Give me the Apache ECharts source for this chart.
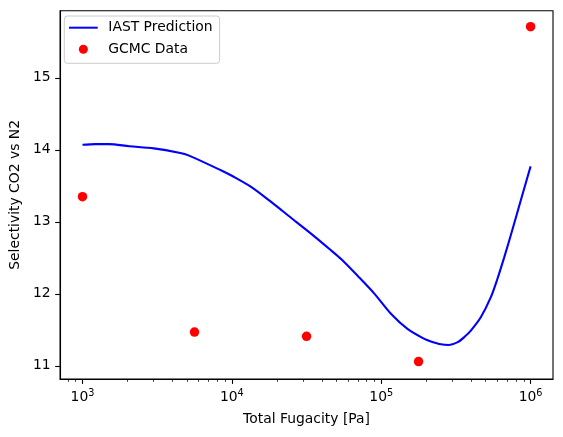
<!DOCTYPE html>
<html>
<head>
<meta charset="utf-8">
<script src="https://cdn.jsdelivr.net/npm/echarts@6/dist/echarts.min.js"></script>
<style>
html,body{margin:0;padding:0;background:#fff;}
#chart{width:563px;height:437px;}
</style>
</head>
<body>
<div id="chart"></div>
<script>
// IAST prediction curve: total fugacity [Pa] and selectivity
const iastFugacity = [1000, 1220, 1500, 2060, 3000, 4430, 5170, 8580, 10000, 13600, 18500, 25100, 34200, 46400, 54100, 69900, 90200, 116600, 150600, 194500, 215000, 251000, 282000, 325000, 360000, 398000, 464000, 541000, 600000, 664000, 736000, 815000, 902000, 1000000];
const iastSelectivity = [14.07, 14.08, 14.08, 14.05, 14.02, 13.96, 13.92, 13.71, 13.64, 13.48, 13.27, 13.05, 12.83, 12.60, 12.48, 12.245, 12.00, 11.72, 11.51, 11.375, 11.34, 11.30, 11.29, 11.33, 11.40, 11.49, 11.675, 11.95, 12.21, 12.50, 12.81, 13.13, 13.45, 13.77];
// GCMC data points
const gcmcFugacity = [1000, 5623, 31623, 177828, 1000000];
const gcmcSelectivity = [13.35, 11.47, 11.41, 11.06, 15.71];
// tick labels
const xMajorExponents = [3, 4, 5, 6];
const yTicks = [11, 12, 13, 14, 15];

const FONT = 'DejaVu Sans';
const FS = 13.9;

const minorTicks = [];
for (let e = 2; e <= 6; e++) {
  for (let m = 2; m <= 9; m++) {
    const v = Math.log10(m * Math.pow(10, e));
    if (v > 2.85 && v < 6.15) minorTicks.push(v);
  }
}

const chart = echarts.init(document.getElementById('chart'), null, {renderer: 'canvas'});
chart.setOption({
  animation: false,
  backgroundColor: '#fff',
  grid: {
    left: 57.3, right: 10, top: 10.7, bottom: 58,
    show: true, borderColor: '#000', borderWidth: 1.1, backgroundColor: 'transparent'
  },
  legend: {
    orient: 'vertical',
    left: 64.3, top: 16,
    padding: [3.7, 7, 6, 4.7],
    itemGap: 5.6,
    itemWidth: 28.7,
    itemHeight: 9,
    backgroundColor: 'rgba(255,255,255,0.8)',
    borderColor: '#cccccc',
    borderWidth: 1,
    borderRadius: 3,
    textStyle: {fontFamily: FONT, fontSize: FS, color: '#000', lineHeight: 16, padding: [0, 0, 0, 5.6]},
    data: [
      {name: 'IAST Prediction', icon: 'path://M0,0 H30 V2.1 H0 Z', itemStyle: {color: '#0000ff', borderWidth: 0}},
      {name: 'GCMC Data', icon: 'circle', itemStyle: {color: '#ff0000', borderWidth: 0}}
    ]
  },
  xAxis: [{
    type: 'value',
    min: 2.85, max: 6.15,
    name: 'Total Fugacity [Pa]',
    nameLocation: 'middle',
    nameGap: 33,
    nameTextStyle: {fontFamily: FONT, fontSize: FS, color: '#000'},
    splitLine: {show: false},
    axisLine: {show: true, onZero: false, lineStyle: {color: '#000', width: 1.1}},
    axisTick: {show: true, length: 4.9, customValues: xMajorExponents, lineStyle: {color: '#000', width: 1.1}},
    axisLabel: {
      customValues: xMajorExponents,
      margin: 9,
      formatter: function (v) { return '{b|10}{s|' + Math.round(v) + '}'; },
      rich: {
        b: {fontFamily: FONT, fontSize: FS, color: '#000'},
        s: {fontFamily: FONT, fontSize: 9.7, color: '#000', padding: [0, 0, 9, 0]}
      }
    }
  }, {
    type: 'value',
    min: 2.85, max: 6.15,
    position: 'bottom',
    splitLine: {show: false},
    axisLine: {show: false},
    axisLabel: {show: false},
    axisTick: {show: true, length: 2.8, customValues: minorTicks, lineStyle: {color: '#000', width: 0.8}}
  }],
  yAxis: {
    type: 'value',
    min: 10.8175, max: 15.9325,
    name: 'Selectivity CO2 vs N2',
    nameLocation: 'middle',
    nameGap: 35,
    nameRotate: 90,
    nameTextStyle: {fontFamily: FONT, fontSize: FS, color: '#000'},
    splitLine: {show: false},
    axisLine: {show: true, onZero: false, lineStyle: {color: '#000', width: 1.1}},
    axisTick: {show: true, length: 4.9, customValues: yTicks, lineStyle: {color: '#000', width: 1.1}},
    axisLabel: {customValues: yTicks, margin: 9.5, fontFamily: FONT, fontSize: FS, color: '#000'}
  },
  series: [{
    name: 'IAST Prediction',
    type: 'line',
    xAxisIndex: 0,
    symbol: 'none',
    smooth: 0.3,
    lineStyle: {color: '#0000ff', width: 2.1},
    itemStyle: {color: '#0000ff'},
    data: iastFugacity.map((f, i) => [Math.log10(f), iastSelectivity[i]]),
    z: 2
  }, {
    name: 'GCMC Data',
    type: 'scatter',
    xAxisIndex: 0,
    symbol: 'circle',
    symbolSize: 9.5,
    itemStyle: {color: '#ff0000', opacity: 1},
    data: gcmcFugacity.map((f, i) => [Math.log10(f), gcmcSelectivity[i]]),
    z: 3
  }]
});
</script>
</body>
</html>
